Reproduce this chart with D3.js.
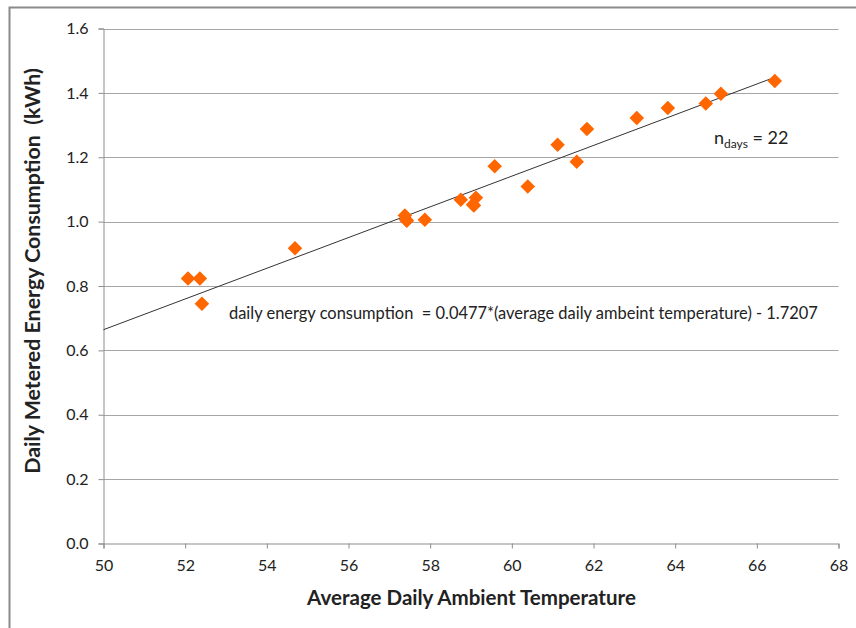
<!DOCTYPE html>
<html>
<head>
<meta charset="utf-8">
<script src="https://cdn.jsdelivr.net/npm/d3@7"></script>
<style>
  html, body { margin: 0; padding: 0; background: #fff; }
  svg { display: block; }
  text { font-family: Lato, "Open Sans", sans-serif; fill: #222; white-space: pre; }
</style>
</head>
<body>
<svg id="chart" width="856" height="628"></svg>
<script>
// Data
const temperature = [52.07, 52.36, 52.41, 54.69, 57.38, 57.41, 57.43, 57.87, 58.75, 59.05, 59.07, 59.12,
                     59.58, 60.39, 61.12, 61.59, 61.84, 63.06, 63.82, 64.75, 65.12, 66.44];
const consumption = [0.823, 0.823, 0.745, 0.917, 1.019, 1.006, 1.003, 1.006, 1.068, 1.053, 1.050, 1.074,
                     1.172, 1.109, 1.239, 1.186, 1.288, 1.322, 1.353, 1.367, 1.397, 1.437];
const xTicks = [50, 52, 54, 56, 58, 60, 62, 64, 66, 68];
const yTicks = [0.0, 0.2, 0.4, 0.6, 0.8, 1.0, 1.2, 1.4, 1.6];
const trendSlope = 0.0477;
const trendIntercept = -1.7207;
const trendRange = [50, 66.44];

(function () {
const svg = d3.select("#chart");
const pLeft = 103.5, pRight = 838.5, pTop = 28.5, pBottom = 543.5;

const x = d3.scaleLinear().domain([50, 68]).range([pLeft, pRight]);
const y = d3.scaleLinear().domain([0, 1.6]).range([pBottom, pTop]);

// fit a text element's font size so its rendered width equals target
function fit(sel, target) {
  const base = parseFloat(sel.style("font-size"));
  const w = sel.node().getComputedTextLength();
  if (w > 0) sel.style("font-size", (base * target / w).toFixed(2) + "px");
  return sel;
}

// outer chart border (left + top visible)
svg.append("path")
  .attr("d", `M9.5,628 V7.5 H856`)
  .attr("fill", "none").attr("stroke", "#8a8a8a").attr("stroke-width", 2);

// gridlines
svg.append("g").selectAll("line").data(yTicks.filter(d => d > 0)).join("line")
  .attr("x1", pLeft).attr("x2", pRight)
  .attr("y1", d => Math.round(y(d)) + 0.5).attr("y2", d => Math.round(y(d)) + 0.5)
  .attr("stroke", "#a6a6a6").attr("stroke-width", 1);

// y axis
const yAxis = d3.axisLeft(y).tickValues(yTicks).tickFormat(d3.format(".1f")).tickSize(5).tickPadding(10);
const gy = svg.append("g").attr("transform", `translate(${pLeft},0)`).call(yAxis);
gy.select(".domain").attr("stroke", "#8c8c8c");
gy.selectAll(".tick line").attr("stroke", "#8c8c8c");
gy.selectAll(".tick text").style("font-family", "Lato, sans-serif").style("font-size", "16px").attr("fill", "#222");

// x axis
const xAxis = d3.axisBottom(x).tickValues(xTicks).tickFormat(d3.format("d")).tickSize(5).tickPadding(11);
const gx = svg.append("g").attr("transform", `translate(0,${pBottom})`).call(xAxis);
gx.select(".domain").attr("stroke", "#8c8c8c");
gx.selectAll(".tick line").attr("stroke", "#8c8c8c");
gx.selectAll(".tick text").style("font-family", "Lato, sans-serif").style("font-size", "16px").attr("fill", "#222");

// trend line
svg.append("line")
  .attr("x1", x(trendRange[0])).attr("y1", y(trendSlope * trendRange[0] + trendIntercept))
  .attr("x2", x(trendRange[1])).attr("y2", y(trendSlope * trendRange[1] + trendIntercept))
  .attr("stroke", "#333").attr("stroke-width", 1);

// markers
const diamond = d3.symbol().type(d3.symbolDiamond2).size(135);
svg.append("g").selectAll("path").data(temperature.map((t, i) => [t, consumption[i]])).join("path")
  .attr("d", diamond)
  .attr("transform", d => `translate(${x(d[0])},${y(d[1])})`)
  .attr("fill", "#ff6600");

// axis titles
fit(svg.append("text")
  .attr("x", 471.5).attr("y", 605)
  .attr("text-anchor", "middle")
  .style("font-weight", "bold").style("font-size", "20px")
  .text("Average Daily Ambient Temperature"), 329);

fit(svg.append("text")
  .attr("transform", `translate(40,271) rotate(-90)`)
  .attr("text-anchor", "middle")
  .style("font-weight", "bold").style("font-size", "20px")
  .text("Daily Metered Energy Consumption  (kWh)"), 406);

// annotations
fit(svg.append("text")
  .attr("x", 229).attr("y", 319)
  .style("font-size", "16px")
  .text("daily energy consumption  = 0.0477*(average daily ambeint temperature) - 1.7207"), 589);

const n = svg.append("text").attr("x", 714).attr("y", 144).style("font-size", "18px");
n.append("tspan").text("n");
n.append("tspan").attr("dy", 4).style("font-size", "12px").text("days");
n.append("tspan").attr("dy", -4).text(" = 22");
})();
</script>
</body>
</html>
